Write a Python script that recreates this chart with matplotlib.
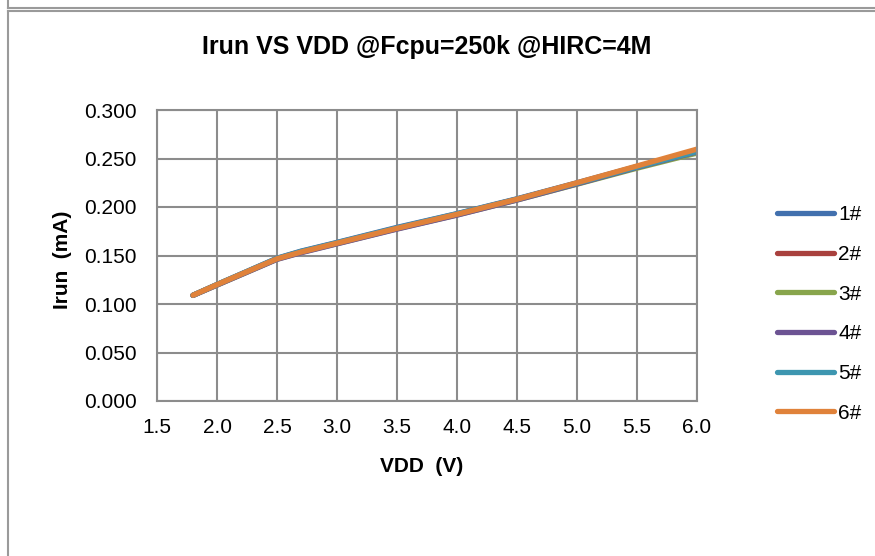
import matplotlib
matplotlib.use("Agg")
import matplotlib.pyplot as plt
import matplotlib.lines as mlines
import numpy as np

plt.rcParams["font.family"] = ["Liberation Sans", "DejaVu Sans"]

vdd = [1.8, 2.0, 2.5, 2.7, 3.0, 3.5, 4.0, 4.5, 5.0, 5.5, 6.0]
irun_1 = [0.109, 0.120, 0.1472, 0.1545, 0.1635, 0.1790, 0.1932, 0.2085, 0.2250, 0.2418, 0.2570]
irun_2 = [0.109, 0.120, 0.1466, 0.1537, 0.1628, 0.1780, 0.1925, 0.2080, 0.2245, 0.2415, 0.2572]
irun_3 = [0.109, 0.1195, 0.1462, 0.1532, 0.1622, 0.1775, 0.1918, 0.2072, 0.2235, 0.2400, 0.2556]
irun_4 = [0.1088, 0.1195, 0.1460, 0.1528, 0.1620, 0.1772, 0.1916, 0.2072, 0.2238, 0.2408, 0.2568]
irun_5 = [0.109, 0.1202, 0.1470, 0.1542, 0.1632, 0.1785, 0.1930, 0.2082, 0.2245, 0.2412, 0.2572]
irun_6 = [0.109, 0.120, 0.1466, 0.1535, 0.1627, 0.1780, 0.1925, 0.2080, 0.2250, 0.2423, 0.2597]
labels = ["1#", "2#", "3#", "4#", "5#", "6#"]
colors = ["#4270AE", "#A9413E", "#88A54C", "#6C5393", "#3D96B0", "#E0823A"]

W, H = 875, 556
fig = plt.figure(figsize=(W / 100, H / 100), dpi=100)

# page frame (table cell borders)
fc = "#9a9a9a"
for y in (7.5, 10.5):
    fig.add_artist(mlines.Line2D([7.5 / W, 1], [1 - y / H, 1 - y / H], color=fc, lw=1.5,
                                 transform=fig.transFigure))
fig.add_artist(mlines.Line2D([7.5 / W, 7.5 / W], [1, 1 - 7.5 / H], color=fc, lw=1.5,
                             transform=fig.transFigure))
fig.add_artist(mlines.Line2D([7.5 / W, 7.5 / W], [1 - 10.5 / H, 0], color=fc, lw=1.5,
                             transform=fig.transFigure))

ax = fig.add_axes([157 / W, 1 - 401 / H, 540 / W, 291 / H])

series = [irun_1, irun_2, irun_3, irun_4, irun_5, irun_6]
for s, lab, c in zip(series, labels, colors):
    ax.plot(vdd, s, color=c, lw=3.8, label=lab, solid_capstyle="round", solid_joinstyle="round")

ax.set_xlim(1.5, 6.0)
ax.set_ylim(0, 0.3)
ax.set_xticks(np.arange(1.5, 6.01, 0.5))
ax.set_yticks(np.arange(0, 0.301, 0.05))
ax.set_xticklabels([f"{v:.1f}" for v in np.arange(1.5, 6.01, 0.5)])
ax.set_yticklabels([f"{v:.3f}" for v in np.arange(0, 0.301, 0.05)])
ax.tick_params(length=0, labelsize=15, pad=12)
ax.tick_params(axis="y", pad=14.5)
ax.grid(True, color="#8c8c8c", lw=1.5)
ax.set_axisbelow(True)
for sp in ax.spines.values():
    sp.set_color("#8c8c8c")
    sp.set_linewidth(1.5)

fig.text(427 / W, 1 - 47 / H, "Irun VS VDD @Fcpu=250k @HIRC=4M", fontsize=18,
         fontweight="bold", ha="center", va="center")
fig.text(422 / W, 1 - 466 / H, "VDD  (V)", fontsize=15, fontweight="bold",
         ha="center", va="center")
fig.text(62 / W, 1 - 260 / H, "Irun  (mA)", fontsize=15, fontweight="bold",
         ha="center", va="center", rotation=90)

fig.legend(loc="center left", bbox_to_anchor=(777 / W, 1 - 314 / H), frameon=False,
           fontsize=15, handlelength=2.75, handletextpad=0.2, labelspacing=0.99,
           borderpad=0, borderaxespad=0)

fig.savefig("out.png", dpi=100)
